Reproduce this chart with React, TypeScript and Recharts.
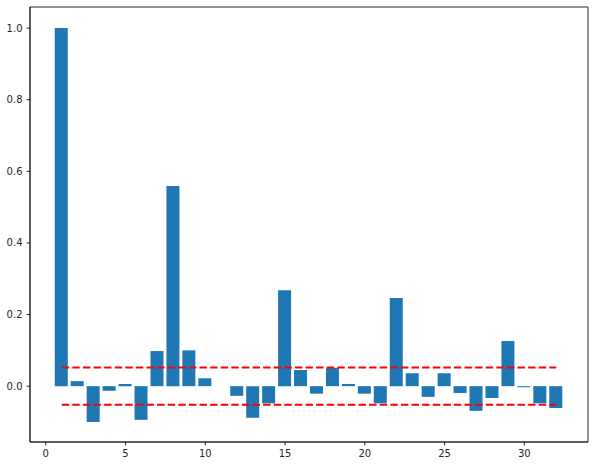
import { BarChart, Bar, XAxis, YAxis, ReferenceLine, ReferenceArea } from 'recharts'

const lags = [1, 2, 3, 4, 5, 6, 7, 8, 9, 10, 11, 12, 13, 14, 15, 16, 17, 18, 19, 20, 21, 22, 23, 24, 25, 26, 27, 28, 29, 30, 31, 32]
const acf = [
  1.0, 0.014, -0.1, -0.013, 0.006, -0.094, 0.098, 0.559, 0.1, 0.022,
  0, -0.027, -0.088, -0.048, 0.268, 0.045, -0.021, 0.051, 0.006, -0.021,
  -0.048, 0.246, 0.036, -0.03, 0.036, -0.019, -0.069, -0.033, 0.126, -0.003,
  -0.048, -0.061,
]
const bound = 0.052
const xTicks = [0, 5, 10, 15, 20, 25, 30]
const yTicks = [0, 0.2, 0.4, 0.6, 0.8, 1.0]
const xDomain: [number, number] = [-0.99, 33.99]
const yDomain: [number, number] = [-0.156, 1.059]

const data = lags.map((lag, i) => ({ lag, value: acf[i] }))

const axisColor = '#262626'
const tickStyle = { fill: axisColor, fontSize: 10, fontFamily: 'DejaVu Sans' }

export default function App() {
  return (
    <div style={{ position: 'absolute', left: 0, top: 0, background: '#fff' }}>
      <BarChart
        width={595}
        height={466}
        data={data}
        margin={{ top: 7, right: 7, bottom: 0, left: 0 }}
      >
        <XAxis
          dataKey="lag"
          type="number"
          domain={xDomain}
          ticks={xTicks}
          allowDataOverflow
          height={24}
          tickSize={3.5}
          tickMargin={4}
          tick={tickStyle}
          tickLine={{ stroke: axisColor }}
          axisLine={{ stroke: axisColor }}
        />
        <YAxis
          type="number"
          domain={yDomain}
          ticks={yTicks}
          allowDataOverflow
          width={30}
          tickSize={3.5}
          tickMargin={4}
          tick={tickStyle}
          tickFormatter={(v: number) => v.toFixed(1)}
          tickLine={{ stroke: axisColor }}
          axisLine={{ stroke: axisColor }}
        />
        {/* frame like matplotlib spines */}
        <ReferenceArea
          x1={xDomain[0]}
          x2={xDomain[1]}
          y1={yDomain[0]}
          y2={yDomain[1]}
          fill="none"
          stroke={axisColor}
          strokeWidth={1}
        />
        <Bar dataKey="value" fill="#1f77b4" barSize={13} isAnimationActive={false} />
        <ReferenceLine
          segment={[{ x: 1, y: bound }, { x: 32, y: bound }]}
          stroke="#ff0000"
          strokeWidth={2}
          strokeDasharray="7.4 3.2"
        />
        <ReferenceLine
          segment={[{ x: 1, y: -bound }, { x: 32, y: -bound }]}
          stroke="#ff0000"
          strokeWidth={2}
          strokeDasharray="7.4 3.2"
        />
      </BarChart>
    </div>
  )
}
